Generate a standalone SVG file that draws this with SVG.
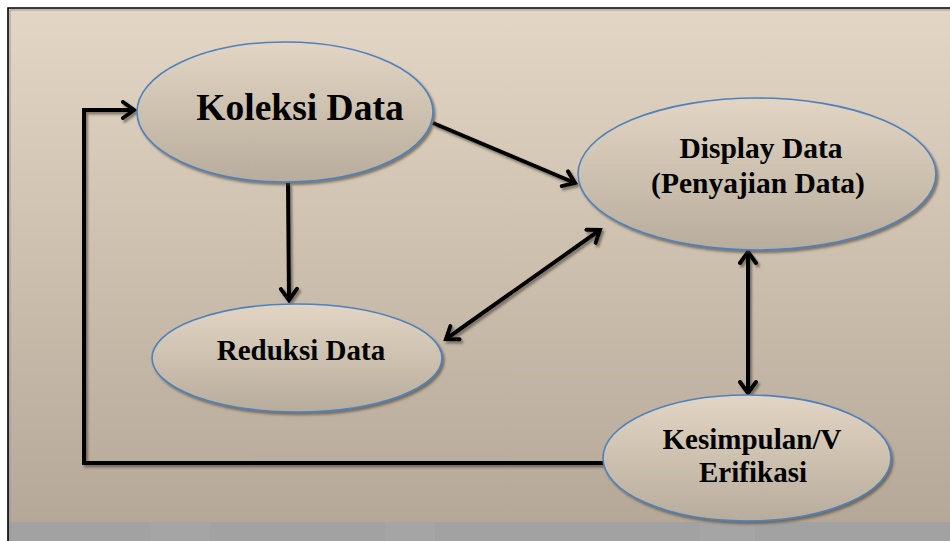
<svg xmlns="http://www.w3.org/2000/svg" width="950" height="541" viewBox="0 0 950 541">
  <defs>
    <linearGradient id="bg" x1="0" y1="0" x2="0" y2="1">
      <stop offset="0" stop-color="#e3d6c4"/>
      <stop offset="1" stop-color="#b5a898"/>
    </linearGradient>
    <linearGradient id="node" x1="0" y1="0" x2="0" y2="1">
      <stop offset="0" stop-color="#e2d5c3"/>
      <stop offset="1" stop-color="#b8ac9c"/>
    </linearGradient>
    <filter id="shadow" x="-10%" y="-10%" width="120%" height="130%">
      <feDropShadow dx="2" dy="2.5" stdDeviation="1" flood-color="#4a4036" flood-opacity="0.6"/>
    </filter>
    <marker id="arrow" markerUnits="userSpaceOnUse" markerWidth="20" markerHeight="20" refX="14" refY="10" orient="auto-start-reverse" viewBox="0 0 20 20">
      <path d="M3,2 L14,10 L3,18" fill="none" stroke="#000" stroke-width="4" stroke-linecap="round" stroke-linejoin="miter"/>
    </marker>
    <style>
      .node ellipse { fill: url(#node); stroke: #4f81bd; stroke-width: 1.6; filter: url(#shadow); }
      .node text { font-family: "Liberation Serif", "Times New Roman", serif; font-weight: bold; fill: #000; text-anchor: middle; }
      .conn { fill: none; stroke: #000; stroke-width: 4; }
    </style>
  </defs>

  <rect x="0" y="0" width="950" height="541" fill="#ffffff"/>
  <rect x="8" y="8" width="950" height="514" fill="url(#bg)"/>
  <rect x="8" y="522" width="950" height="19" fill="#a2a2a2"/>
  <rect x="150" y="522" width="60" height="19" fill="#a5a5a5"/>
  <rect x="385" y="522" width="50" height="19" fill="#a5a5a5"/>
  <rect x="700" y="522" width="55" height="19" fill="#a5a5a5"/>
  <path d="M8,541 L8,8 L950,8" fill="none" stroke="#000" stroke-width="1.6"/>
  <path d="M10,541 L10,10 L950,10" fill="none" stroke="#9a9a9a" stroke-width="1"/>

  <g id="connectors" filter="url(#shadow)">
    <path class="conn" d="M603,463 L84,463 L84,110 L134,110" marker-end="url(#arrow)"/>
    <path class="conn" d="M288,183 L289,300" marker-end="url(#arrow)"/>
    <path class="conn" d="M433,123 L575,183" marker-end="url(#arrow)"/>
    <path class="conn" d="M446,339 L600,230" marker-start="url(#arrow)" marker-end="url(#arrow)"/>
    <path class="conn" d="M748,252 L748,393" marker-start="url(#arrow)" marker-end="url(#arrow)"/>
  </g>

  <g id="node-koleksi" class="node">
    <ellipse cx="285" cy="112" rx="148" ry="70"/>
    <text x="300" y="120" font-size="37.5">Koleksi Data</text>
  </g>
  <g id="node-display" class="node">
    <ellipse cx="757" cy="174" rx="179" ry="76"/>
    <text x="761" y="158" font-size="29.5">Display Data</text>
    <text x="758" y="193" font-size="29.5">(Penyajian Data)</text>
  </g>
  <g id="node-reduksi" class="node">
    <ellipse cx="297" cy="358" rx="145" ry="54"/>
    <text x="301" y="360" font-size="29">Reduksi Data</text>
  </g>
  <g id="node-kesimpulan" class="node">
    <ellipse cx="747" cy="458" rx="144" ry="63"/>
    <text x="752" y="449" font-size="29">Kesimpulan/V</text>
    <text x="753" y="482" font-size="29">Erifikasi</text>
  </g>
</svg>
